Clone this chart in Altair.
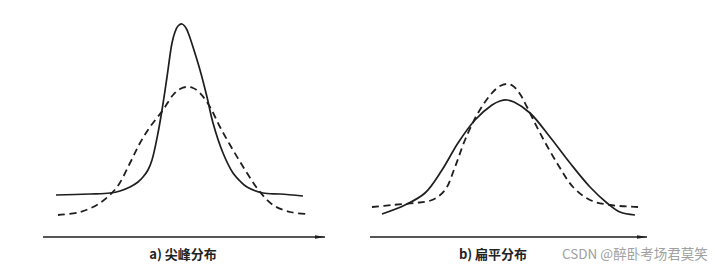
import altair as alt
import pandas as pd

# ---- panel a) 尖峰分布 : solid = leptokurtic curve, dashed = normal curve ----
A_SOLID_X = [13, 47, 67, 77, 87, 95, 100, 105, 109, 115, 119, 124, 129, 132, 135, 139, 143, 146, 150, 157, 164, 170, 180, 190, 197, 204, 220, 237, 260]
A_SOLID_Y = [42, 43, 44, 46, 50, 55, 60, 67, 77, 104, 127, 160, 194, 205, 211, 213, 209, 202, 190, 167, 140, 114, 84, 64, 56, 50, 44, 43, 41]
A_DASH_X = [15, 37, 57, 74, 87, 97, 107, 120, 130, 137, 143, 150, 157, 167, 177, 190, 204, 217, 230, 247, 265]
A_DASH_Y = [22, 25, 34, 50, 74, 94, 110, 127, 142, 148, 150, 149, 144, 130, 110, 87, 64, 45, 32, 25, 23]

# ---- panel b) 扁平分布 : solid = platykurtic curve, dashed = normal curve ----
B_SOLID_X = [12, 35, 55, 72, 88, 105, 122, 130, 137, 144, 160, 180, 200, 220, 237, 250, 265]
B_SOLID_Y = [23, 32, 44, 67, 94, 117, 132, 136, 137, 135, 124, 100, 74, 50, 34, 25, 22]
B_DASH_X = [2, 22, 45, 62, 75, 85, 95, 108, 122, 130, 137, 143, 150, 157, 170, 187, 203, 220, 240, 268]
B_DASH_Y = [30, 32, 34, 37, 47, 70, 97, 124, 144, 151, 153, 151, 143, 130, 104, 74, 50, 37, 32, 30]

PANELS = ["a", "b"]
AXIS_LEN = [282, 277]
LABELS = ["a) 尖峰分布", "b) 扁平分布"]
LABEL_X = [140, 123]
WATERMARK = "CSDN @醉卧考场君莫笑"

OFFSET = {"a": 43, "b": 370}

rows = []
for panel, style, xs, ys in [
    ("a", "solid", A_SOLID_X, A_SOLID_Y),
    ("a", "dash", A_DASH_X, A_DASH_Y),
    ("b", "solid", B_SOLID_X, B_SOLID_Y),
    ("b", "dash", B_DASH_X, B_DASH_Y),
]:
    for x, y in zip(xs, ys):
        rows.append({"panel": panel, "style": style, "key": panel + style, "x": x + OFFSET[panel], "y": y})
curves = pd.DataFrame(rows)

axes_df = pd.DataFrame({
    "panel": PANELS,
    "x0": [OFFSET[p] for p in PANELS],
    "x1": [OFFSET[p] + L for p, L in zip(PANELS, AXIS_LEN)],
    "xh": [OFFSET[p] + L - 5 for p, L in zip(PANELS, AXIS_LEN)],
    "y": [0, 0],
})
labels_df = pd.DataFrame({
    "x": [OFFSET[p] + lx for p, lx in zip(PANELS, LABEL_X)],
    "y": [-18, -18],
    "text": LABELS,
})
wm_df = pd.DataFrame({"x": [OFFSET["b"] + 192], "y": [-18], "text": [WATERMARK]})

xs = alt.Scale(domain=[0, 715], nice=False, zero=False)
ys = alt.Scale(domain=[-31, 237], nice=False, zero=False)
X = lambda f: alt.X(f, scale=xs, axis=None)
Y = lambda f: alt.Y(f, scale=ys, axis=None)

ink = "#1e1e1e"

solid = alt.Chart(curves).transform_filter(alt.datum.style == "solid").mark_line(
    color=ink, strokeWidth=1.7, interpolate="catmull-rom"
).encode(x=X("x:Q"), y=Y("y:Q"), detail="key:N")

dashed = alt.Chart(curves).transform_filter(alt.datum.style == "dash").mark_line(
    color=ink, strokeWidth=1.8, strokeDash=[7, 4.5], interpolate="catmull-rom"
).encode(x=X("x:Q"), y=Y("y:Q"), detail="key:N")

axis_line = alt.Chart(axes_df).mark_rule(color=ink, strokeWidth=1.3).encode(
    x=X("x0:Q"), x2="x1:Q", y=Y("y:Q")
)
arrow = alt.Chart(axes_df).mark_point(
    shape="M -1 -0.35 L 1 0 L -1 0.35 Z", filled=True, color=ink, opacity=1, size=100
).encode(x=X("xh:Q"), y=Y("y:Q"))

labels = alt.Chart(labels_df).mark_text(
    font="Noto Sans CJK SC", fontSize=13, fontWeight="bold", color="#222222", align="center", baseline="middle"
).encode(x=X("x:Q"), y=Y("y:Q"), text="text:N")

wm = alt.Chart(wm_df).mark_text(
    font="Noto Sans CJK SC", fontSize=13.5, color="#a0a0a0", align="left", baseline="middle"
).encode(x=X("x:Q"), y=Y("y:Q"), text="text:N")

chart = alt.layer(axis_line, arrow, dashed, solid, labels, wm).properties(
    width=715, height=268, autosize=alt.AutoSizeParams(type="none"), padding=0, background="white"
).configure_view(strokeWidth=0)

chart.save("out.html", embed_options={"renderer": "svg", "actions": False})
